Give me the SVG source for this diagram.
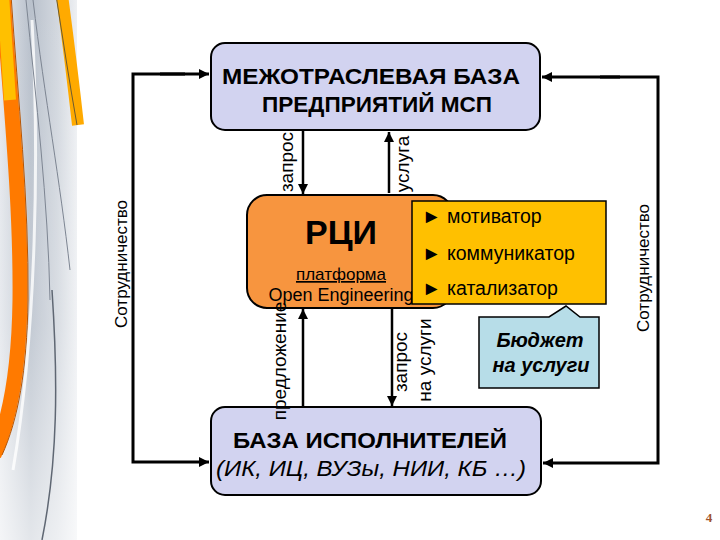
<svg xmlns="http://www.w3.org/2000/svg" width="720" height="540" viewBox="0 0 720 540">
<defs>
<linearGradient id="swGrey" x1="0" y1="0" x2="1" y2="0">
<stop offset="0" stop-color="#e4e7ec"/>
<stop offset="0.4" stop-color="#b9c1cc"/>
<stop offset="0.75" stop-color="#d3d8df"/>
<stop offset="1" stop-color="#eef0f3"/>
</linearGradient>
<linearGradient id="swFade" x1="0" y1="0" x2="0" y2="1">
<stop offset="0" stop-color="#ffffff" stop-opacity="0"/>
<stop offset="0.6" stop-color="#ffffff" stop-opacity="0.15"/>
<stop offset="1" stop-color="#ffffff" stop-opacity="0.6"/>
</linearGradient>
<marker id="arr" markerUnits="userSpaceOnUse" markerWidth="12" markerHeight="12" refX="10" refY="5" orient="auto">
<path d="M0,0 L10,5 L0,10 Z" fill="#000"/>
</marker>
<style>
.box{fill:#d2d3f0;stroke:#000;stroke-width:2}
.conn{fill:none;stroke:#000;stroke-width:3}
.thin{fill:none;stroke:#000;stroke-width:2.5}
.t{font-family:"Liberation Sans",Arial,sans-serif;fill:#000}
.b{font-weight:bold}
.lbl{font-family:"Liberation Sans",Arial,sans-serif;font-size:19px;fill:#000;text-anchor:middle}
.side{font-family:"Liberation Sans",Arial,sans-serif;font-size:17px;fill:#000;text-anchor:middle}
.item{font-family:"Liberation Sans",Arial,sans-serif;font-size:19.5px;fill:#000}
</style>
</defs>
<rect width="720" height="540" fill="#fff"/>
<g id="swoosh">
<rect x="0" y="0" width="77" height="540" fill="url(#swGrey)"/>
<rect x="0" y="0" width="77" height="540" fill="url(#swFade)"/>
<path d="M3,-5 C10,100 21,200 20,300 C19,370 10,420 -6,455" fill="none" stroke="#ff7a00" stroke-width="15"/>
<path d="M3,-5 C6,40 8,70 10,100" fill="none" stroke="#ffc000" stroke-width="12"/>
<path d="M11,-5 C18,100 29,200 28,300 C27,370 18,420 2,455" fill="none" stroke="#b85400" stroke-width="1"/>
<path d="M32,20 C39,150 37,330 13,470" fill="none" stroke="#ffffff" stroke-width="3" opacity="0.8"/>
<path d="M62,-5 C68,40 73,80 78,125" fill="none" stroke="#ffaa00" stroke-width="12"/>
<path d="M56,-5 C63,40 69,80 77,125" fill="none" stroke="#6b5a30" stroke-width="1"/>
<path d="M26,0 C36,100 48,200 50,300" fill="none" stroke="#7d8592" stroke-width="1"/>
<path d="M33,0 C45,100 60,180 70,270" fill="none" stroke="#7d8592" stroke-width="1"/>
<path d="M52,290 C58,380 58,460 42,540" fill="none" stroke="#5f6773" stroke-width="1.5"/>
</g>
<g id="connectors">
<path class="conn" d="M185,74 H133 V462 H209" marker-end="url(#arr)"/>
<path class="conn" d="M160,74 H209" marker-end="url(#arr)"/>
<path class="conn" d="M600,77 H658 V463 H543" marker-end="url(#arr)"/>
<path class="conn" d="M620,77 H542" marker-end="url(#arr)"/>
<path class="thin" d="M303,131 V194" marker-end="url(#arr)"/>
<path class="thin" d="M389,193 V132" marker-end="url(#arr)"/>
<path class="thin" d="M303,406 V309" marker-end="url(#arr)"/>
<path class="thin" d="M392,309 V406" marker-end="url(#arr)"/>
</g>
<g id="node-top">
<rect class="box" x="211" y="43" width="329" height="87" rx="14"/>
<text class="t b" x="371" y="84" font-size="22" text-anchor="middle" textLength="298" lengthAdjust="spacingAndGlyphs">МЕЖОТРАСЛЕВАЯ БАЗА</text>
<text class="t b" x="377" y="112" font-size="22" text-anchor="middle" textLength="230" lengthAdjust="spacingAndGlyphs">ПРЕДПРИЯТИЙ МСП</text>
</g>
<g id="node-bottom">
<rect class="box" x="211" y="407" width="330" height="88" rx="14"/>
<text class="t b" x="370" y="448" font-size="22" text-anchor="middle" textLength="274" lengthAdjust="spacingAndGlyphs">БАЗА ИСПОЛНИТЕЛЕЙ</text>
<text class="t" x="371" y="476" font-size="22" font-style="italic" text-anchor="middle" textLength="310" lengthAdjust="spacingAndGlyphs">(ИК, ИЦ, ВУЗы, НИИ, КБ …)</text>
</g>
<g id="node-rci">
<rect x="247" y="195" width="206" height="113" rx="20" fill="#f7953f" stroke="#000" stroke-width="2"/>
<text class="t b" x="341" y="244" font-size="34" text-anchor="middle">РЦИ</text>
<text class="t" x="341" y="280" font-size="17" text-anchor="middle" text-decoration="underline">платформа</text>
<text class="t" x="341" y="301" font-size="18" text-anchor="middle">Open Engineering</text>
</g>
<g id="node-roles">
<rect x="412" y="201" width="194" height="103" fill="#ffc000" stroke="#000" stroke-width="1.5"/>
<text class="item" x="422" y="223">►<tspan x="447">мотиватор</tspan></text>
<text class="item" x="422" y="260">►<tspan x="447">коммуникатор</tspan></text>
<text class="item" x="422" y="295">►<tspan x="447">катализатор</tspan></text>
</g>
<g id="node-budget">
<path d="M479,317 H549 L566,306 L580,317 H599 V388 H479 Z" fill="#b7dde8" stroke="#000" stroke-width="1.5"/>
<text class="t b" x="540" y="347" font-size="20" font-style="italic" text-anchor="middle">Бюджет</text>
<text class="t b" x="541" y="372" font-size="20" font-style="italic" text-anchor="middle">на услуги</text>
</g>
<g id="labels">
<text class="lbl" transform="translate(293,162) rotate(-90)">запрос</text>
<text class="lbl" transform="translate(409,164) rotate(-90)">услуга</text>
<text class="lbl" transform="translate(286,361) rotate(-90)">предложение</text>
<text class="lbl" transform="translate(407,362) rotate(-90)">запрос</text>
<text class="lbl" transform="translate(431,360) rotate(-90)">на услуги</text>
<text class="side" transform="translate(127,264) rotate(-90)">Сотрудничество</text>
<text class="side" transform="translate(649,268) rotate(-90)">Сотрудничество</text>
</g>
<text x="709" y="522" font-family="'Liberation Serif',serif" font-size="13" font-weight="bold" fill="#a0522d" text-anchor="middle">4</text>
</svg>
